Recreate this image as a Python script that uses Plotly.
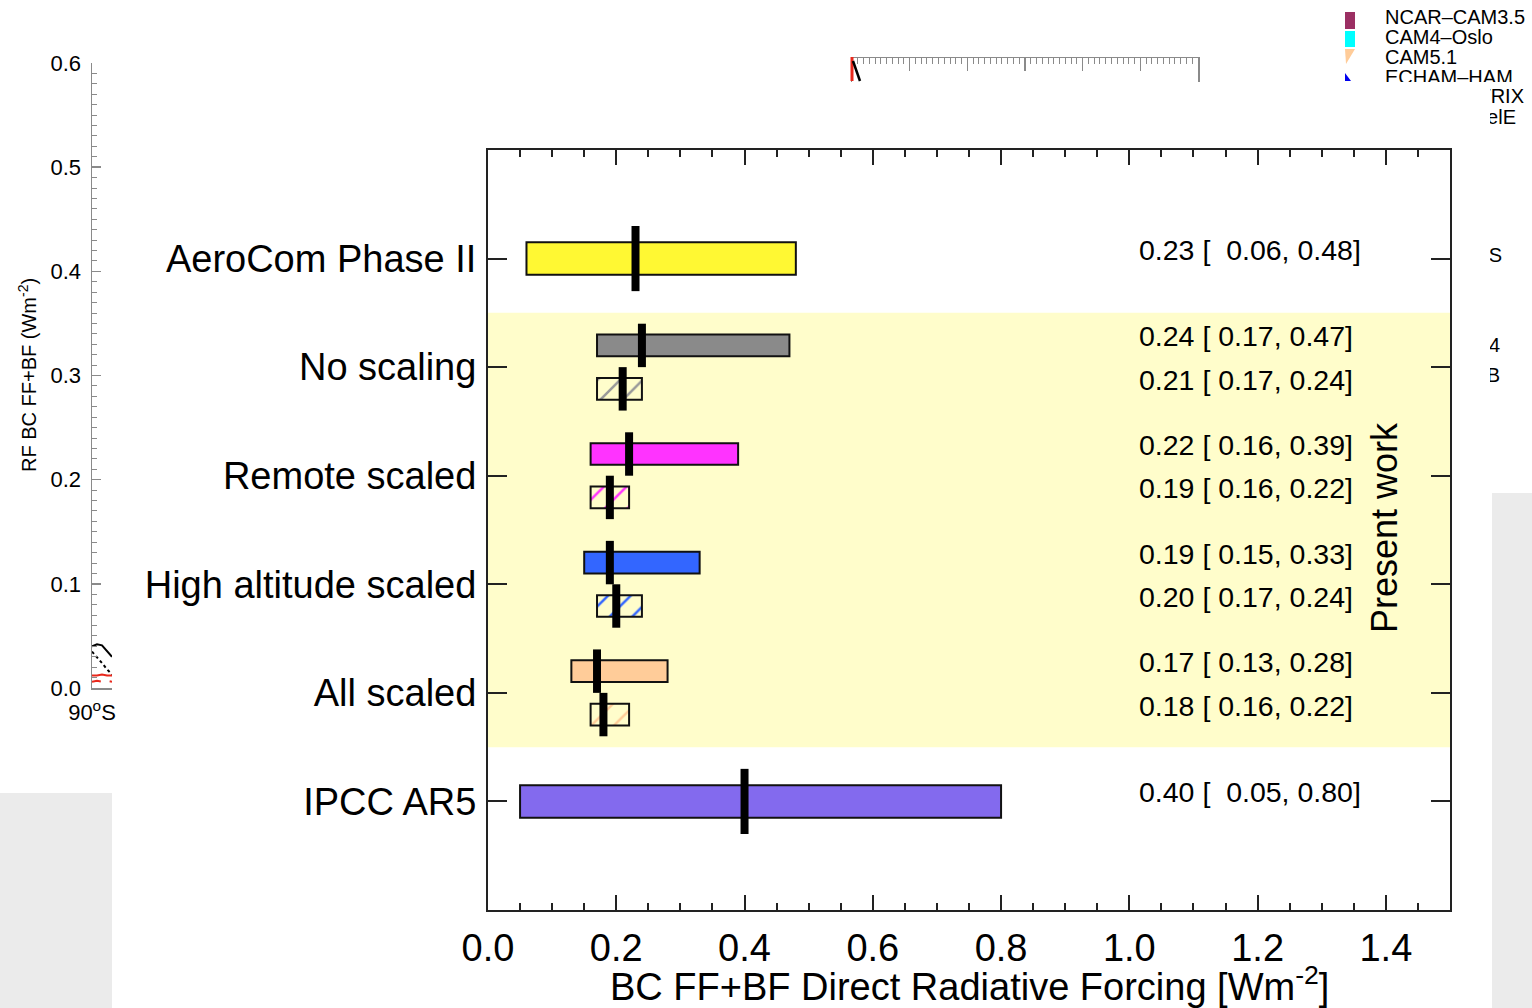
import plotly.graph_objects as go

W, H = 1532, 1008
FONT = "Liberation Sans, Arial, Helvetica, sans-serif"

# ---------------- main chart data ----------------
categories = ["AeroCom Phase II", "No scaling", "Remote scaled",
              "High altitude scaled", "All scaled", "IPCC AR5"]
cat_pos = [5, 4, 3, 2, 1, 0]

ref_names = ["AeroCom Phase II", "IPCC AR5"]
ref_best = [0.23, 0.40]
ref_low = [0.06, 0.05]
ref_high = [0.48, 0.80]
ref_colors = ["#FFF833", "#836AEE"]

pw_names = ["No scaling", "Remote scaled", "High altitude scaled", "All scaled"]
pw_best = [0.24, 0.22, 0.19, 0.17]
pw_low = [0.17, 0.16, 0.15, 0.13]
pw_high = [0.47, 0.39, 0.33, 0.28]
pw_colors = ["#8A8A8A", "#FF33FF", "#3366FF", "#FFCC99"]

pwh_best = [0.21, 0.19, 0.20, 0.18]
pwh_low = [0.17, 0.16, 0.17, 0.16]
pwh_high = [0.24, 0.22, 0.24, 0.22]
pwh_colors = ["#9A9A9A", "#FF33FF", "#3366FF", "#FFCC99"]

x_tick_vals = [0.0, 0.2, 0.4, 0.6, 0.8, 1.0, 1.2, 1.4]
band_label = "Present work"
x_title = "BC FF+BF Direct Radiative Forcing [Wm<sup>-2</sup>]"

# ---------------- background (underlying figure) data ----------------
bg_y_ticks = [0.0, 0.1, 0.2, 0.3, 0.4, 0.5, 0.6]
bg_y_title = "RF BC FF+BF (Wm<sup>-2</sup>)"
bg_x_tick = [-90]
bg_x_ticktext = ["90<sup>o</sup>S"]
bg_lat = [-90, -89, -88, -87, -86]
bg_rf_black = [0.040, 0.042, 0.041, 0.036, 0.030]
bg_rf_black_dot = [0.035, 0.030, 0.024, 0.018, 0.013]
bg_rf_red = [0.012, 0.012, 0.013, 0.012, 0.012]
bg_rf_red_dash = [0.006, 0.007, 0.006, 0.007, 0.006]
bg_legend_names = ["NCAR\u2013CAM3.5", "CAM4\u2013Oslo", "CAM5.1", "ECHAM\u2013HAM"]
bg_legend_rows = [19, 39, 59, 79]
bg_tail_texts = ["GISS\u2013MATRIX", "GISS\u2013modelE", "S", "4", "B"]
bg_tail_rows = [98, 119, 257, 347, 377]
bg_tail_right = [1524, 1516, 1502, 1500, 1500]


def px(x):
    return x / W


def py(y):
    return 1 - y / H


pos = {c: p for c, p in zip(categories, cat_pos)}

fig = go.Figure()

# reference estimates (AeroCom, IPCC)
fig.add_trace(go.Bar(
    orientation="h", y=[pos[n] for n in ref_names],
    base=ref_low, x=[h - l for h, l in zip(ref_high, ref_low)],
    width=0.3, marker=dict(color=ref_colors, line=dict(color="#111", width=2)),
    xaxis="x", yaxis="y", hoverinfo="skip", showlegend=False))

# present work - filled bars
fig.add_trace(go.Bar(
    orientation="h", y=[pos[n] + 0.2 for n in pw_names],
    base=pw_low, x=[h - l for h, l in zip(pw_high, pw_low)],
    width=0.2, marker=dict(color=pw_colors, line=dict(color="#111", width=2)),
    xaxis="x", yaxis="y", hoverinfo="skip", showlegend=False))

# present work - hatched bars
fig.add_trace(go.Bar(
    orientation="h", y=[pos[n] - 0.2 for n in pw_names],
    base=pwh_low, x=[h - l for h, l in zip(pwh_high, pwh_low)],
    width=0.2,
    marker=dict(color="rgba(0,0,0,0)", line=dict(color="#111", width=2),
                pattern=dict(shape="/", fgcolor=pwh_colors, bgcolor="rgba(0,0,0,0)",
                             size=16, solidity=0.16, fillmode="replace")),
    xaxis="x", yaxis="y", hoverinfo="skip", showlegend=False))

# median markers
mx, my = [], []
for n, b in zip(ref_names, ref_best):
    mx += [b, b, None]
    my += [pos[n] - 0.3, pos[n] + 0.3, None]
for n, b in zip(pw_names, pw_best):
    mx += [b, b, None]
    my += [pos[n] + 0.2 - 0.2, pos[n] + 0.2 + 0.2, None]
for n, b in zip(pw_names, pwh_best):
    mx += [b, b, None]
    my += [pos[n] - 0.2 - 0.2, pos[n] - 0.2 + 0.2, None]
fig.add_trace(go.Scatter(x=mx, y=my, mode="lines", line=dict(color="black", width=8),
                         xaxis="x", yaxis="y", hoverinfo="skip", showlegend=False))

# background subplot: left axis fragment
fig.add_trace(go.Scatter(x=bg_lat, y=bg_rf_black, mode="lines", line=dict(color="black", width=2),
                         xaxis="x2", yaxis="y2", hoverinfo="skip", showlegend=False))
fig.add_trace(go.Scatter(x=bg_lat, y=bg_rf_black_dot, mode="lines",
                         line=dict(color="black", width=2, dash="dot"),
                         xaxis="x2", yaxis="y2", hoverinfo="skip", showlegend=False))
fig.add_trace(go.Scatter(x=bg_lat, y=bg_rf_red, mode="lines", line=dict(color="#E8281C", width=2),
                         xaxis="x2", yaxis="y2", hoverinfo="skip", showlegend=False))
fig.add_trace(go.Scatter(x=bg_lat, y=bg_rf_red_dash, mode="lines",
                         line=dict(color="#E8281C", width=2, dash="dash"),
                         xaxis="x2", yaxis="y2", hoverinfo="skip", showlegend=False))

# background legend texts (clipped by the overlaying image)
fig.add_trace(go.Scatter(x=[1385] * len(bg_legend_names), y=bg_legend_rows, mode="text",
                         text=bg_legend_names, textposition="middle right",
                         textfont=dict(family=FONT, size=20, color="black"),
                         cliponaxis=True, xaxis="x4", yaxis="y4",
                         hoverinfo="skip", showlegend=False))
fig.add_trace(go.Scatter(x=bg_tail_right, y=bg_tail_rows, mode="text",
                         text=bg_tail_texts, textposition="middle left",
                         textfont=dict(family=FONT, size=20, color="black"),
                         cliponaxis=True, xaxis="x5", yaxis="y5",
                         hoverinfo="skip", showlegend=False))
# dummy trace for ruler subplot
fig.add_trace(go.Scatter(x=[None], y=[None], xaxis="x3", yaxis="y3",
                         hoverinfo="skip", showlegend=False))

shapes = []
# Present work band
shapes.append(dict(type="rect", xref="x domain", x0=0, x1=1, yref="y", y0=0.5, y1=4.5,
                   fillcolor="#FFFDCB", line=dict(width=0), layer="below"))
# grey page fragments
shapes.append(dict(type="rect", xref="paper", yref="paper", x0=px(0), x1=px(112),
                   y0=py(1008), y1=py(793), fillcolor="#EBEBEB", line=dict(width=0), layer="below"))
shapes.append(dict(type="rect", xref="paper", yref="paper", x0=px(1492), x1=px(1532),
                   y0=py(1008), y1=py(493), fillcolor="#EBEBEB", line=dict(width=0), layer="below"))
# legend swatches of underlying figure
shapes.append(dict(type="rect", xref="paper", yref="paper", x0=px(1345), x1=px(1355),
                   y0=py(29), y1=py(12), fillcolor="#9B2F63", line=dict(width=0)))
shapes.append(dict(type="rect", xref="paper", yref="paper", x0=px(1345), x1=px(1355),
                   y0=py(47), y1=py(31), fillcolor="#00FFFF", line=dict(width=0)))
shapes.append(dict(type="path", xref="paper", yref="paper",
                   path=f"M{px(1345)},{py(49)} L{px(1355)},{py(49)} L{px(1346)},{py(64)} Z",
                   fillcolor="#FFCC99", line=dict(width=0)))
shapes.append(dict(type="path", xref="paper", yref="paper",
                   path=f"M{px(1345)},{py(73)} L{px(1351)},{py(81)} L{px(1345)},{py(81)} Z",
                   fillcolor="#0000EE", line=dict(width=0)))
# ruler start marks
shapes.append(dict(type="line", xref="paper", yref="paper", x0=px(852), x1=px(852),
                   y0=py(57), y1=py(81), line=dict(color="#E8281C", width=3)))
shapes.append(dict(type="line", xref="paper", yref="paper", x0=px(853), x1=px(860),
                   y0=py(61), y1=py(81), line=dict(color="black", width=2.5)))

annotations = []
# value labels
def fmt(b, l, h):
    pad = "\u00a0\u00a0" if l < 0.1 else "\u00a0"
    return f"{b:.2f} [{pad}{l:.2f}, {h:.2f}]"

VFONT = dict(family=FONT, size=28.5, color="black")
for n, b, l, h in zip(ref_names, ref_best, ref_low, ref_high):
    annotations.append(dict(x=1.0125, y=pos[n], xref="x", yref="y", text=fmt(b, l, h),
                            xanchor="left", yanchor="middle", yshift=9, showarrow=False,
                            font=VFONT))
for n, b, l, h in zip(pw_names, pw_best, pw_low, pw_high):
    annotations.append(dict(x=1.0125, y=pos[n] + 0.2, xref="x", yref="y", text=fmt(b, l, h),
                            xanchor="left", yanchor="middle", yshift=9, showarrow=False,
                            font=VFONT))
for n, b, l, h in zip(pw_names, pwh_best, pwh_low, pwh_high):
    annotations.append(dict(x=1.0125, y=pos[n] - 0.2, xref="x", yref="y", text=fmt(b, l, h),
                            xanchor="left", yanchor="middle", yshift=9, showarrow=False,
                            font=VFONT))
annotations.append(dict(x=1.399, y=2.52, xref="x", yref="y", text=band_label, textangle=-90,
                        xanchor="center", yanchor="middle", showarrow=False,
                        font=dict(family=FONT, size=36, color="black")))
annotations.append(dict(x=px(969), y=py(984), xref="paper", yref="paper", text=x_title,
                        xanchor="center", yanchor="middle", showarrow=False,
                        font=dict(family=FONT, size=38, color="black")))
annotations.append(dict(x=px(27), y=py(375), xref="paper", yref="paper", text=bg_y_title,
                        textangle=-90, xanchor="center", yanchor="middle", showarrow=False,
                        font=dict(family=FONT, size=20, color="black")))

AX = "#222222"
GR = "#8A8A8A"
fig.update_layout(
    width=W, height=H, margin=dict(l=0, r=0, t=0, b=0, pad=0),
    paper_bgcolor="white", plot_bgcolor="rgba(0,0,0,0)",
    barmode="overlay", showlegend=False, font=dict(family=FONT, color="black"),
    shapes=shapes, annotations=annotations,
    xaxis=dict(domain=[px(488), px(1450)], range=[0, 1.5], anchor="y",
               showline=True, linecolor=AX, linewidth=2, mirror="ticks",
               ticks="inside", ticklen=15, tickwidth=2, tickcolor=AX,
               tickmode="array", tickvals=x_tick_vals,
               ticktext=[f"{v:.1f}" for v in x_tick_vals],
               minor=dict(ticks="inside", ticklen=7, tickwidth=2, tickcolor=AX, dtick=0.05, tick0=0),
               tickfont=dict(family=FONT, size=38, color="black"),
               ticklabelstandoff=3,
               showgrid=False, zeroline=False, automargin=False, fixedrange=True),
    yaxis=dict(domain=[py(910), py(150)], range=[-1, 6], anchor="x",
               showline=True, linecolor=AX, linewidth=2, mirror="ticks",
               ticks="inside", ticklen=19, tickwidth=2, tickcolor=AX,
               tickmode="array", tickvals=cat_pos, ticktext=categories,
               tickfont=dict(family=FONT, size=38, color="black"),
               ticklabelstandoff=2,
               showgrid=False, zeroline=False, automargin=False, fixedrange=True),
    xaxis2=dict(domain=[px(92), px(112)], range=[-90, -86], anchor="y2",
                showline=True, linecolor=GR, linewidth=1.5,
                tickmode="array", tickvals=bg_x_tick, ticktext=bg_x_ticktext, ticks="",
                tickfont=dict(family=FONT, size=22, color="black"), ticklabelstandoff=4,
                showgrid=False, zeroline=False, automargin=False, fixedrange=True),
    yaxis2=dict(domain=[py(688), py(63)], range=[0, 0.6], anchor="x2",
                showline=True, linecolor=GR, linewidth=1.5,
                ticks="inside", ticklen=9, tickwidth=1.5, tickcolor=GR,
                tickmode="array", tickvals=bg_y_ticks,
                ticktext=[f"{v:.1f}" for v in bg_y_ticks],
                minor=dict(ticks="inside", ticklen=5, tickwidth=1, tickcolor=GR, dtick=0.01, tick0=0),
                tickfont=dict(family=FONT, size=22, color="black"), ticklabelstandoff=5,
                showgrid=False, zeroline=False, automargin=False, fixedrange=True),
    xaxis3=dict(domain=[px(852), px(1198)], range=[0, 6], anchor="y3", side="top",
                showline=True, linecolor=GR, linewidth=1.5,
                ticks="inside", ticklen=13, tickwidth=1.5, tickcolor=GR, dtick=1, tick0=0,
                minor=dict(ticks="inside", ticklen=6, tickwidth=1, tickcolor=GR, dtick=0.1, tick0=0),
                showticklabels=False, showgrid=False, zeroline=False,
                automargin=False, fixedrange=True),
    yaxis3=dict(domain=[py(82), py(58)], range=[0, 1], anchor="x3",
                showline=True, linecolor=GR, linewidth=1.5, mirror=True,
                ticks="", showticklabels=False, showgrid=False, zeroline=False,
                automargin=False, fixedrange=True),
    xaxis4=dict(domain=[px(1330), 1], range=[1330, 1532], anchor="y4", visible=False,
                automargin=False, fixedrange=True),
    yaxis4=dict(domain=[py(82), 1], range=[82, 0], anchor="x4", visible=False,
                automargin=False, fixedrange=True),
    xaxis5=dict(domain=[px(1490), 1], range=[1490, 1532], anchor="y5", visible=False,
                automargin=False, fixedrange=True),
    yaxis5=dict(domain=[py(400), py(82)], range=[400, 82], anchor="x5", visible=False,
                automargin=False, fixedrange=True),
)

fig.write_html("out.html", config=dict(displayModeBar=False, staticPlot=True))
